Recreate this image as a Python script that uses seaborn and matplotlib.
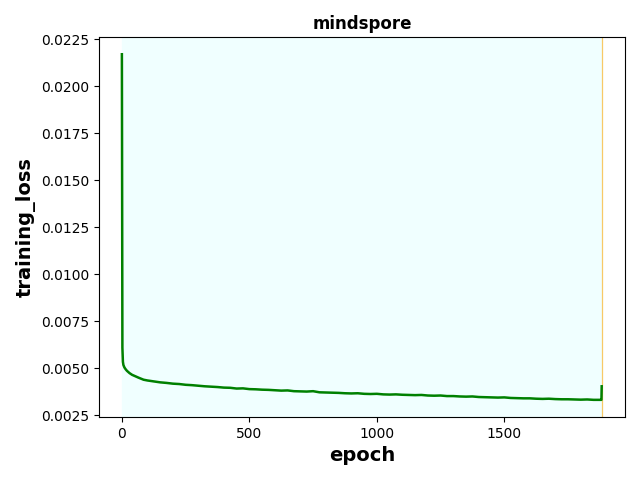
import matplotlib
matplotlib.use("Agg")
import matplotlib.pyplot as plt
import numpy as np
import pandas as pd
import seaborn as sns

# values
epochs = [0, 2, 4, 6, 10, 15, 20, 30, 40, 50, 65, 85, 100, 125, 150, 175,
          200, 225, 250, 275, 300, 325, 350, 375, 400, 425, 450, 475, 500,
          525, 550, 575, 600, 625, 650, 675, 700, 725, 750, 775, 800, 825,
          850, 875, 900, 925, 950, 975, 1000, 1025, 1050, 1075, 1100, 1125,
          1150, 1175, 1200, 1225, 1250, 1275, 1300, 1325, 1350, 1375, 1400,
          1425, 1450, 1475, 1500, 1525, 1550, 1575, 1600, 1625, 1650, 1675,
          1700, 1725, 1750, 1775, 1800, 1825, 1850, 1875, 1881, 1882]
training_loss = [0.02170, 0.00610, 0.00535, 0.00518, 0.00505, 0.00495,
                 0.00487, 0.00475, 0.00466, 0.00460, 0.00451, 0.00440,
                 0.00436, 0.00431, 0.00426, 0.00423, 0.00419, 0.00417,
                 0.00413, 0.00411, 0.00408, 0.00405, 0.00403, 0.00401,
                 0.00398, 0.00397, 0.00393, 0.00394, 0.00390, 0.00389,
                 0.00387, 0.00386, 0.00384, 0.00382, 0.00383, 0.00379,
                 0.00378, 0.00377, 0.00379, 0.00373, 0.00372, 0.00371,
                 0.00370, 0.00368, 0.00367, 0.00368, 0.00365, 0.00364,
                 0.00365, 0.00362, 0.00361, 0.00362, 0.00360, 0.00359,
                 0.00358, 0.00359, 0.00356, 0.00355, 0.00356, 0.00353,
                 0.00353, 0.00351, 0.00350, 0.00351, 0.00348, 0.00347,
                 0.00346, 0.00345, 0.00346, 0.00343, 0.00342, 0.00341,
                 0.00341, 0.00339, 0.00338, 0.00339, 0.00337, 0.00336,
                 0.00336, 0.00335, 0.00334, 0.00335, 0.00333, 0.00333,
                 0.00333, 0.00405]
span_end = 1882

df = pd.DataFrame({"epoch": epochs, "training_loss": training_loss})

fig, ax = plt.subplots(figsize=(6.4, 4.8), dpi=100)
fig.subplots_adjust(left=0.155, right=0.976, top=0.923, bottom=0.131)

ax.axvspan(0, span_end, color="azure")
ax.axvline(span_end, color="orange", alpha=0.6, linewidth=0.9)
sns.lineplot(data=df, x="epoch", y="training_loss", color="green",
             linewidth=1.8, ax=ax)

ax.set_xlim(-89, 1972)
ax.set_xticks([0, 500, 1000, 1500])
ax.set_yticks([0.0025, 0.005, 0.0075, 0.01, 0.0125, 0.015, 0.0175, 0.02, 0.0225])
ax.set_title("mindspore", fontweight="bold")
ax.set_xlabel("epoch", fontsize=14, fontweight="bold")
ax.set_ylabel("training_loss", fontsize=14, fontweight="bold")

fig.savefig("out.png")
